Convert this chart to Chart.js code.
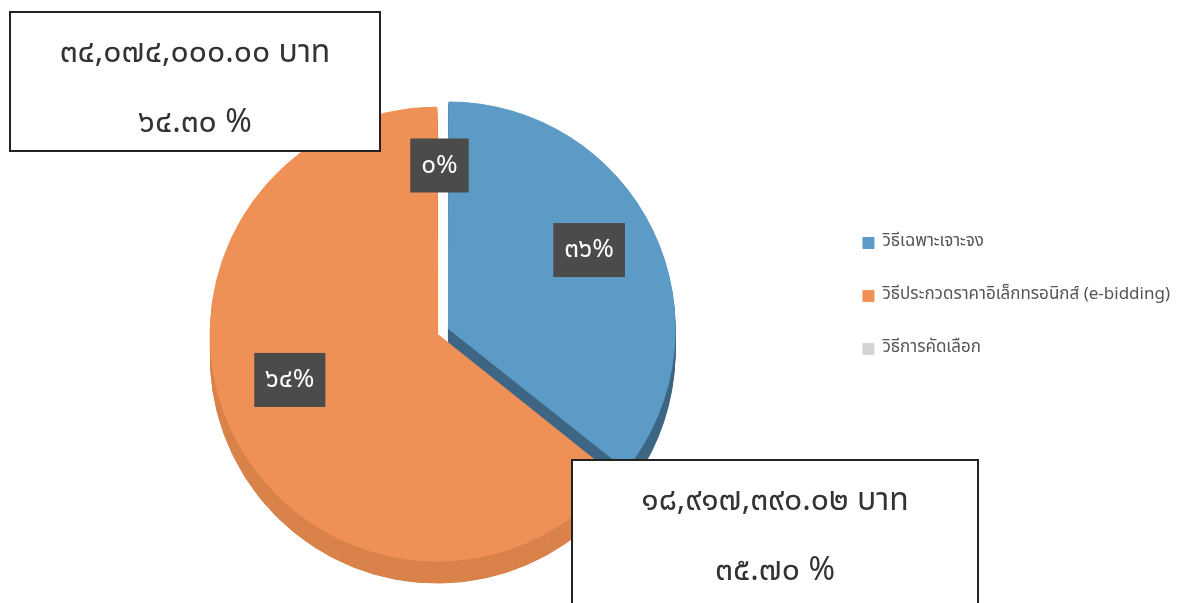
<!DOCTYPE html>
<html>
<head>
<meta charset="utf-8">
<script src="https://cdn.jsdelivr.net/npm/chart.js@4.4.0/dist/chart.umd.min.js"></script>
<style>
  html, body { margin: 0; padding: 0; background: #fff; }
  #wrap { width: 1188px; height: 603px; position: relative; }
</style>
</head>
<body>
<div id="wrap"><canvas id="myChart"></canvas></div>
<script>
// categories (legend order)
var methods = ['วิธีเฉพาะเจาะจง', 'วิธีประกวดราคาอิเล็กทรอนิกส์ (e-bidding)', 'วิธีการคัดเลือก'];
// amounts in baht
var amounts = [18917390.02, 34074000.00, 0];
var sliceColors = ['#5b9bc5', '#ef9157', '#d4d4d4'];
var sideColors = ['#3e6684', '#d9824a', '#a8a8a8'];

var thaiFont = '"Noto Sans Thai", "Noto Sans", sans-serif';

// arabic digits -> thai digits
function thaiDigits(s) {
  return String(s).replace(/[0-9]/g, function (d) { return '๐๑๒๓๔๕๖๗๘๙'[+d]; });
}
var total = amounts.reduce(function (a, b) { return a + b; }, 0);
function pct(i) { return amounts[i] / total * 100; }
function money(v) {
  return v.toLocaleString('en-US', { minimumFractionDigits: 2, maximumFractionDigits: 2 });
}

// fake 3d thickness: draw each arc shifted downwards in a darker colour
var depthPlugin = {
  id: 'depth',
  beforeDatasetsDraw: function (chart) {
    var ctx = chart.ctx;
    var arcs = chart.getDatasetMeta(0).data;
    for (var d = 22; d > 0; d -= 2) {
      arcs.forEach(function (arc, i) {
        if (!amounts[i]) return;
        var o = arc.options;
        var keepBg = o.backgroundColor, keepBorder = o.borderColor;
        o.backgroundColor = sideColors[i];
        o.borderColor = sideColors[i];
        ctx.save();
        ctx.translate(0, d);
        arc.draw(ctx);
        ctx.restore();
        o.backgroundColor = keepBg;
        o.borderColor = keepBorder;
      });
    }
  }
};

// move the legend block up/left to where the original has it
var legendShift = {
  id: 'legendShift',
  afterLayout: function (chart) {
    var lg = chart.legend;
    lg.top -= 37; lg.bottom -= 37;
    lg.left -= 8; lg.right -= 8;
  }
};

// dark percentage boxes on each slice
var sliceLabels = {
  id: 'sliceLabels',
  afterDatasetsDraw: function (chart) {
    var ctx = chart.ctx;
    var arcs = chart.getDatasetMeta(0).data;
    ctx.save();
    ctx.font = '26px ' + thaiFont;
    ctx.textAlign = 'center';
    ctx.textBaseline = 'middle';
    arcs.forEach(function (arc, i) {
      var p = arc.getProps(['x', 'y', 'startAngle', 'endAngle', 'outerRadius']);
      var mid = (p.startAngle + p.endAngle) / 2;
      var r = p.outerRadius * 0.74;
      var cx = p.x + Math.cos(mid) * r;
      var cy = p.y + Math.sin(mid) * r * 0.9 - 18;
      var txt = thaiDigits(Math.round(pct(i))) + '%';
      var w = ctx.measureText(txt).width + 22;
      var h = 54;
      ctx.fillStyle = '#4b4b49';
      ctx.fillRect(cx - w / 2, cy - h / 2, w, h);
      ctx.fillStyle = '#ffffff';
      ctx.fillText(txt, cx, cy + 2);
    });
    ctx.restore();
  }
};

// white callout boxes with amount and percentage
var callouts = {
  id: 'callouts',
  afterDraw: function (chart) {
    var ctx = chart.ctx;
    var boxes = [
      { i: 1, x: 10, y: 12, w: 370, h: 139 },
      { i: 0, x: 572, y: 460, w: 406, h: 160 }
    ];
    ctx.save();
    boxes.forEach(function (b) {
      ctx.fillStyle = '#ffffff';
      ctx.fillRect(b.x, b.y, b.w, b.h);
      ctx.strokeStyle = '#222';
      ctx.lineWidth = 2;
      ctx.strokeRect(b.x, b.y, b.w, b.h);
      ctx.fillStyle = '#333';
      ctx.font = '32px ' + thaiFont;
      ctx.textAlign = 'center';
      ctx.textBaseline = 'middle';
      ctx.fillText(thaiDigits(money(amounts[b.i])) + ' บาท', b.x + b.w / 2, b.y + 44);
      ctx.fillText(thaiDigits(pct(b.i).toFixed(2)) + ' %', b.x + b.w / 2, b.y + 114);
    });
    ctx.restore();
  }
};

var ctx = document.getElementById('myChart').getContext('2d');
var myChart = new Chart(ctx, {
  type: 'pie',
  data: {
    labels: methods,
    datasets: [{
      data: amounts,
      backgroundColor: sliceColors,
      borderColor: sliceColors,
      borderWidth: 1,
      offset: [40, 10, 0]
    }]
  },
  options: {
    responsive: true,
    maintainAspectRatio: false,
    animation: false,
    layout: { padding: { left: 44, top: 88, bottom: 25, right: 0 } },
    plugins: {
      legend: {
        position: 'right',
        labels: {
          boxWidth: 11,
          boxHeight: 11,
          padding: 36,
          color: '#555',
          font: { family: thaiFont, size: 17 }
        }
      },
      tooltip: { enabled: false }
    }
  },
  plugins: [depthPlugin, legendShift, sliceLabels, callouts]
});
</script>
</body>
</html>
